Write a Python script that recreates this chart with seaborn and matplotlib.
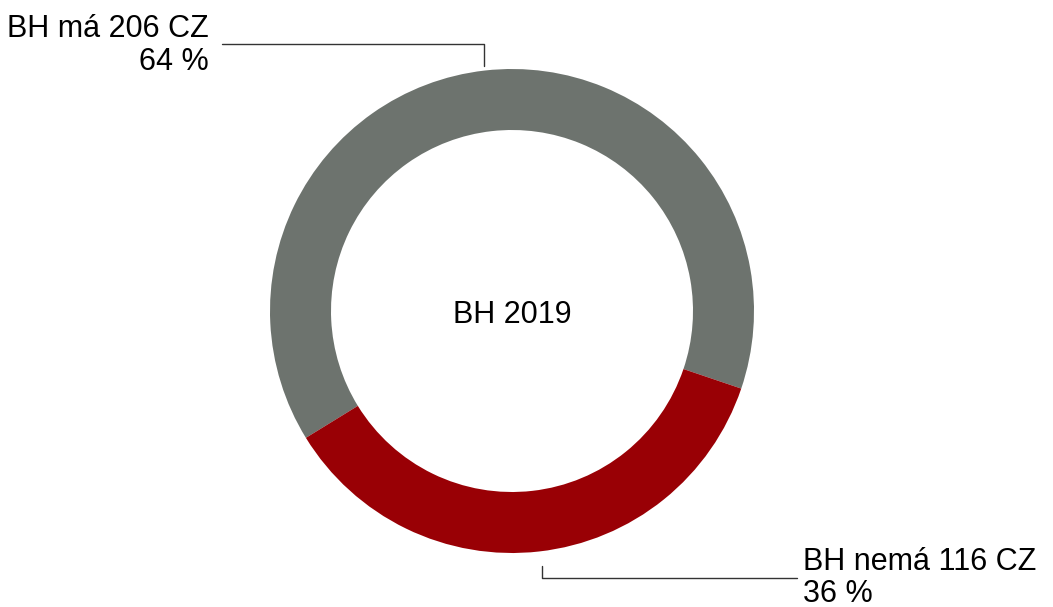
import matplotlib
matplotlib.use("Agg")
import matplotlib.pyplot as plt
import seaborn as sns

# data
categories = ["BH má", "BH nemá"]
counts = [206, 116]
colors = ["#6d736e", "#990005"]
center_title = "BH 2019"

sns.set_style("white")
plt.rcParams['font.family'] = ['Liberation Sans', 'DejaVu Sans']

W, H = 1053, 607
fig = plt.figure(figsize=(W / 100, H / 100), dpi=100)
ax = fig.add_axes([0, 0, 1, 1])

# donut (pixel-like coords, y up)
cx, cy, R = 512, 296, 242
ax.pie(counts, colors=colors, startangle=-18.7, counterclock=True,
       center=(cx, cy), radius=R, frame=True,
       wedgeprops=dict(width=61, edgecolor="none", linewidth=0))
ax.set_xlim(0, W)
ax.set_ylim(0, H)
ax.set_aspect("equal")
ax.axis("off")

total = sum(counts)
pcts = [round(c / total * 100) for c in counts]

ax.text(cx, H - 323, center_title, ha="center", va="baseline",
        fontsize=22, color="black")

# label for gray slice (top left)
line_c = "#333333"
ax.plot([222, 484, 484], [H - 44, H - 44, H - 66], color=line_c, lw=1)
ax.text(209, H - 70, f"{categories[0]} {counts[0]} CZ\n{pcts[0]} %",
        ha="right", va="baseline", fontsize=22, linespacing=1.12,
        color="black")

# label for red slice (bottom right)
ax.plot([542, 542, 797], [H - 566, H - 578, H - 578], color=line_c, lw=1)
ax.text(803, H - 602, f"{categories[1]} {counts[1]} CZ\n{pcts[1]} %",
        ha="left", va="baseline", fontsize=22, linespacing=1.1,
        multialignment="left", color="black")

fig.savefig("out.png", dpi=100)
